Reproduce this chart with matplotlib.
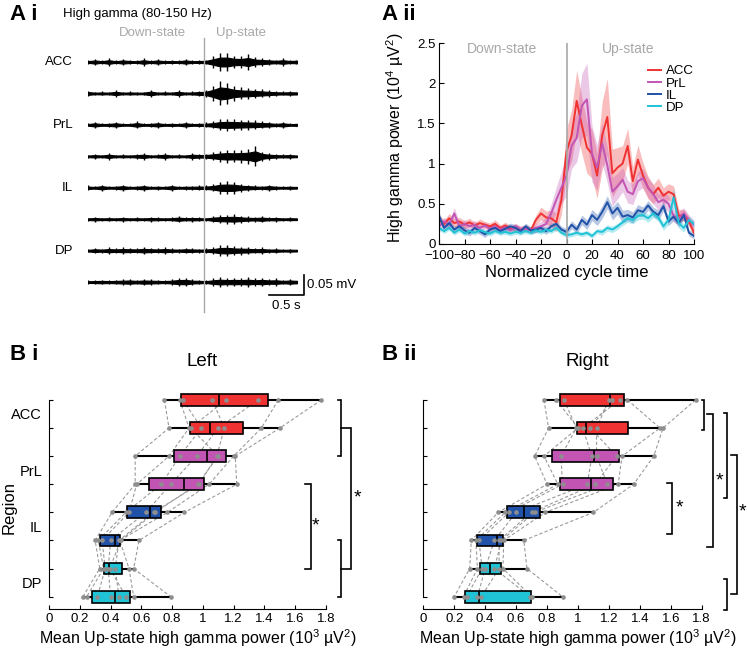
import numpy as np
import matplotlib
matplotlib.use("Agg")
import matplotlib.pyplot as plt
from matplotlib.ticker import FuncFormatter

plt.rcParams['font.family'] = ['Liberation Sans', 'DejaVu Sans']
plt.rcParams['mathtext.fontset'] = 'custom'
plt.rcParams['mathtext.rm'] = 'Liberation Sans'

# ---- A i : high gamma traces, envelope half-amplitude in uV every 0.1 s ----
trace_t = np.arange(31) * 0.1
trace_names = ['ACC', '', 'PrL', '', 'IL', '', 'DP', '']
trace_env = [
    [4, 8, 4, 9, 4, 8, 5, 4, 9, 4, 8, 4, 5, 4, 8, 4, 5, 6, 14, 22, 22, 16, 15, 20, 12, 10, 8, 6, 9, 5, 7],
    [7, 4, 5, 4, 8, 4, 5, 4, 4, 9, 4, 5, 4, 8, 4, 5, 7, 9, 18, 30, 26, 18, 15, 14, 12, 10, 8, 6, 5, 6, 5],
    [4, 8, 4, 5, 8, 4, 4, 9, 4, 5, 8, 4, 5, 4, 8, 4, 5, 6, 9, 14, 15, 14, 13, 12, 11, 9, 8, 5, 8, 4, 5],
    [4, 6, 4, 8, 4, 5, 4, 6, 8, 4, 5, 8, 4, 5, 4, 8, 6, 7, 10, 14, 16, 15, 16, 18, 25, 12, 8, 6, 5, 6, 4],
    [6, 4, 8, 4, 5, 8, 4, 5, 8, 4, 5, 4, 8, 4, 5, 5, 6, 6, 9, 15, 16, 15, 10, 8, 6, 5, 8, 5, 4, 5, 4],
    [4, 6, 4, 5, 4, 6, 4, 5, 4, 6, 5, 4, 5, 8, 5, 6, 5, 4, 8, 10, 11, 12, 9, 7, 6, 8, 5, 6, 4, 5, 4],
    [4, 7, 5, 8, 6, 8, 7, 6, 9, 7, 6, 8, 6, 5, 7, 6, 5, 6, 8, 13, 14, 11, 10, 9, 7, 8, 5, 6, 4, 5, 4],
    [4, 5, 6, 5, 6, 7, 8, 6, 8, 7, 6, 5, 7, 10, 11, 7, 6, 5, 9, 12, 10, 11, 10, 12, 9, 11, 8, 9, 6, 8, 6],
]
up_onset = 1.66

# ---- A ii : normalized cycle power (10^4 uV^2) ----
cycle_x = np.arange(-100, 101, 4)
acc_mean = [0.30, 0.25, 0.32, 0.26, 0.28, 0.24, 0.27, 0.23, 0.26, 0.24,
            0.22, 0.25, 0.20, 0.23, 0.19, 0.21, 0.18, 0.20, 0.17, 0.30,
            0.38, 0.33, 0.32, 0.27, 0.55, 1.15, 1.35, 1.78, 1.48, 1.20,
            1.12, 0.85, 1.35, 1.58, 0.88, 0.95, 1.00, 1.22, 0.78, 1.05,
            0.85, 0.70, 0.62, 0.70, 0.60, 0.65, 0.62, 0.35, 0.36, 0.28,
            0.14]
prl_mean = [0.22, 0.28, 0.24, 0.38, 0.22, 0.25, 0.22, 0.24, 0.20, 0.23,
            0.19, 0.22, 0.18, 0.21, 0.17, 0.22, 0.18, 0.19, 0.17, 0.20,
            0.22, 0.25, 0.38, 0.55, 0.70, 0.85, 1.22, 1.32, 1.72, 1.80,
            1.12, 0.95, 1.25, 0.98, 0.65, 0.72, 0.80, 0.65, 0.62, 0.78,
            0.82, 0.70, 0.62, 0.52, 0.55, 0.50, 0.35, 0.32, 0.38, 0.30,
            0.24]
il_mean = [0.35, 0.20, 0.26, 0.18, 0.22, 0.17, 0.14, 0.20, 0.16, 0.12,
           0.18, 0.20, 0.16, 0.19, 0.22, 0.20, 0.16, 0.22, 0.17, 0.18,
           0.20, 0.16, 0.22, 0.25, 0.18, 0.15, 0.24, 0.18, 0.30, 0.24,
           0.36, 0.30, 0.40, 0.52, 0.38, 0.45, 0.34, 0.36, 0.33, 0.42,
           0.40, 0.48, 0.40, 0.36, 0.47, 0.28, 0.34, 0.26, 0.36, 0.14,
           0.10]
dp_mean = [0.20, 0.16, 0.20, 0.14, 0.18, 0.13, 0.16, 0.14, 0.17, 0.15,
           0.13, 0.16, 0.14, 0.15, 0.13, 0.15, 0.14, 0.16, 0.14, 0.17,
           0.15, 0.18, 0.16, 0.20, 0.14, 0.11, 0.12, 0.14, 0.12, 0.14,
           0.10, 0.16, 0.15, 0.20, 0.18, 0.22, 0.27, 0.32, 0.30, 0.35,
           0.36, 0.32, 0.38, 0.33, 0.22, 0.30, 0.58, 0.26, 0.20, 0.30,
           0.25]
acc_sem = [0.06, 0.05, 0.06, 0.05, 0.05, 0.05, 0.05, 0.04, 0.05, 0.04,
           0.04, 0.05, 0.04, 0.04, 0.04, 0.04, 0.04, 0.04, 0.04, 0.06,
           0.08, 0.08, 0.10, 0.12, 0.18, 0.28, 0.32, 0.38, 0.35, 0.32,
           0.30, 0.28, 0.42, 0.48, 0.30, 0.25, 0.22, 0.22, 0.18, 0.18,
           0.16, 0.14, 0.12, 0.12, 0.10, 0.10, 0.10, 0.08, 0.07, 0.06,
           0.05]
prl_sem = [0.06, 0.05, 0.06, 0.07, 0.05, 0.05, 0.05, 0.05, 0.04, 0.04,
           0.04, 0.04, 0.04, 0.04, 0.04, 0.04, 0.04, 0.04, 0.04, 0.05,
           0.06, 0.08, 0.12, 0.16, 0.20, 0.25, 0.28, 0.30, 0.40, 0.45,
           0.35, 0.28, 0.25, 0.22, 0.18, 0.16, 0.15, 0.14, 0.13, 0.12,
           0.12, 0.12, 0.12, 0.10, 0.10, 0.10, 0.08, 0.08, 0.07, 0.06,
           0.05]
il_sem = [0.05, 0.04, 0.04, 0.04, 0.04, 0.04, 0.04, 0.04, 0.04, 0.04,
          0.04, 0.04, 0.04, 0.04, 0.04, 0.04, 0.04, 0.04, 0.04, 0.04,
          0.04, 0.04, 0.04, 0.04, 0.04, 0.04, 0.05, 0.05, 0.06, 0.06,
          0.07, 0.07, 0.08, 0.08, 0.08, 0.08, 0.08, 0.07, 0.07, 0.07,
          0.06, 0.06, 0.06, 0.06, 0.06, 0.05, 0.05, 0.05, 0.05, 0.04,
          0.04]
dp_sem = [0.03, 0.03, 0.03, 0.03, 0.03, 0.03, 0.03, 0.03, 0.03, 0.03,
          0.03, 0.03, 0.03, 0.03, 0.03, 0.03, 0.03, 0.03, 0.03, 0.03,
          0.03, 0.03, 0.03, 0.03, 0.03, 0.03, 0.03, 0.03, 0.03, 0.03,
          0.03, 0.03, 0.04, 0.04, 0.04, 0.04, 0.04, 0.05, 0.05, 0.05,
          0.05, 0.05, 0.05, 0.05, 0.05, 0.06, 0.12, 0.06, 0.05, 0.05,
          0.04]

regions = ['ACC', 'PrL', 'IL', 'DP']
colors = {'ACC': '#f03232', 'PrL': '#c254b4', 'IL': '#1f52a8', 'DP': '#1fc3d5'}

# ---- B : mean Up-state high gamma power per animal (10^3 uV^2), two sites per region ----
left_rows = [
    [1.77, 0.87, 1.06, 1.49, 0.75, 1.36, 0.85, 1.15],
    [1.50, 0.99, 1.14, 1.38, 0.78, 1.10, 0.91, 0.92],
    [1.21, 0.85, 1.09, 1.20, 0.56, 0.96, 0.78, 1.10],
    [1.22, 0.73, 0.975, 1.04, 0.56, 0.79, 0.57, 0.965],
    [0.88, 0.50, 0.68, 0.77, 0.41, 0.63, 0.52, 0.69],
    [0.585, 0.32, 0.455, 0.46, 0.30, 0.40, 0.345, 0.465],
    [0.55, 0.355, 0.43, 0.52, 0.33, 0.385, 0.365, 0.395],
    [0.79, 0.245, 0.455, 0.55, 0.22, 0.40, 0.315, 0.50],
]
right_rows = [
    [1.76, 0.86, 1.20, 1.32, 0.78, 1.27, 0.91, 1.22],
    [1.55, 1.00, 1.12, 1.53, 0.81, 1.03, 0.99, 1.08],
    [1.49, 0.78, 1.12, 1.285, 0.72, 1.09, 0.89, 1.25],
    [1.36, 0.87, 1.19, 1.26, 0.80, 1.06, 0.90, 1.11],
    [1.10, 0.53, 0.72, 0.79, 0.485, 0.60, 0.555, 0.70],
    [0.65, 0.34, 0.505, 0.52, 0.31, 0.46, 0.36, 0.49],
    [0.67, 0.35, 0.46, 0.515, 0.30, 0.40, 0.38, 0.49],
    [0.90, 0.26, 0.69, 0.70, 0.20, 0.35, 0.28, 0.375],
]
row_region = ['ACC', 'ACC', 'PrL', 'PrL', 'IL', 'IL', 'DP', 'DP']

W, H = 747, 648
fig = plt.figure(figsize=(W / 100, H / 100), dpi=100)


def px_rect(x0, y0, x1, y1):
    return [x0 / W, 1 - y1 / H, (x1 - x0) / W, (y1 - y0) / H]


def ftext(x, y, s, **kw):
    fig.text(x / W, 1 - y / H, s, **kw)


fmt = FuncFormatter(lambda v, p: '%g' % v)

# ---------------- A i ----------------
ax1 = fig.add_axes(px_rect(88, 30, 297, 312))
ax1.set_xlim(0, 3.0)
ax1.set_ylim(-0.625, 0.08)
ax1.axis('off')
ax1.plot([up_onset, up_onset], [-0.625, 0.06], color='#a8a8a8', lw=1, clip_on=False)
trace_gap = 0.0786
for i, env in enumerate(trace_env):
    off = -i * trace_gap
    e = np.array(env) / 1000.0
    ax1.fill_between(trace_t, off - 0.5 * e, off + 0.5 * e, facecolor='k', edgecolor='k', lw=0.8)
    ax1.vlines(trace_t, off - e, off + e, color='k', lw=1.0)
    if trace_names[i]:
        ax1.text(-0.215, off, trace_names[i], ha='right', va='center', fontsize=9.5)
ax1.text(0.92, 0.0725, 'Down-state', ha='center', va='center', fontsize=9.5, color='#a8a8a8')
ax1.text(2.2, 0.0725, 'Up-state', ha='center', va='center', fontsize=9.5, color='#a8a8a8')
ax1.plot([2.6, 3.1, 3.1], [-0.5825, -0.5825, -0.5325], color='k', lw=1.2, clip_on=False)
ax1.text(3.145, -0.5575, '0.05 mV', ha='left', va='center', fontsize=9.5)
ax1.text(2.85, -0.595, '0.5 s', ha='center', va='top', fontsize=9.5)
ftext(10, 14, 'A i', fontsize=16, fontweight='bold', va='center')
ftext(63, 14, 'High gamma (80-150 Hz)', fontsize=9.5, va='center')

# ---------------- A ii ----------------
ax2 = fig.add_axes(px_rect(439, 43, 694, 244))
series = [(acc_mean, acc_sem), (prl_mean, prl_sem), (il_mean, il_sem), (dp_mean, dp_sem)]
for name, (m, s) in zip(regions, series):
    m = np.array(m)
    s = np.array(s)
    ax2.fill_between(cycle_x, m - s, m + s, color=colors[name], alpha=0.32, lw=0)
for name, (m, s) in zip(regions, series):
    ax2.plot(cycle_x, m, color=colors[name], lw=1.4, label=name)
ax2.axvline(0, color='#a8a8a8', lw=1.2, zorder=5)
ax2.set_xlim(-100, 100)
ax2.set_ylim(0, 2.5)
ax2.set_xticks(np.arange(-100, 101, 20))
ax2.set_yticks([0, 0.5, 1, 1.5, 2, 2.5])
ax2.yaxis.set_major_formatter(fmt)
ax2.tick_params(direction='in', length=3.5, labelsize=9.5)
ax2.tick_params(axis='x', pad=4.5)
ax2.tick_params(axis='y', pad=2.5)
for sp in ['top', 'right']:
    ax2.spines[sp].set_visible(False)
ax2.text(-50.7, 2.42, 'Down-state', ha='center', va='center', fontsize=10, color='#a8a8a8')
ax2.text(48, 2.42, 'Up-state', ha='center', va='center', fontsize=10, color='#a8a8a8')
ax2.legend(loc='upper left', bbox_to_anchor=(0.82, 0.89), frameon=False, fontsize=9.5,
           labelspacing=0.0, handlelength=1.0, handletextpad=0.35, borderpad=0, borderaxespad=0)
ftext(567, 273, 'Normalized cycle time', fontsize=12, ha='center', va='center')
ftext(395, 138, r'High gamma power (10$^{\mathregular{4}}$ µV$^{\mathregular{2}}$)', fontsize=11.5,
      ha='center', va='center', rotation=90)
ftext(382, 14, 'A ii', fontsize=16, fontweight='bold', va='center')


# ---------------- B ----------------
def box_panel(ax, rows):
    n_animals = len(rows[0])
    ypos = np.arange(len(rows))
    for j in range(n_animals):
        ax.plot([r[j] for r in rows], ypos, ls=(0, (3, 2)), color='#9a9a9a', lw=0.8, zorder=1)
    stats = []
    for r in rows:
        q1, med, q3 = np.percentile(r, [25, 50, 75], method='hazen')
        stats.append(dict(med=med, q1=q1, q3=q3, whislo=min(r), whishi=max(r), fliers=[]))
    bp = ax.bxp(stats, positions=ypos, orientation='horizontal', widths=0.42, patch_artist=True,
                showcaps=False, showfliers=False,
                boxprops=dict(edgecolor='k', lw=1.2),
                medianprops=dict(color='k', lw=1.2),
                whiskerprops=dict(color='k', lw=1.5))
    for patch, reg in zip(bp['boxes'], row_region):
        patch.set_facecolor(colors[reg])
        patch.set_zorder(3)
    for k in ('medians', 'whiskers'):
        for ln in bp[k]:
            ln.set_zorder(3.5 if k == 'medians' else 2)
    for y, r in zip(ypos, rows):
        ax.scatter(r, [y] * len(r), s=11, color='#8e8e8e', zorder=5, lw=0)
    ax.set_xlim(0, 1.8)
    ax.set_ylim(7.44, -0.71)
    ax.set_xticks(np.arange(0, 1.81, 0.2))
    ax.xaxis.set_major_formatter(fmt)
    ax.set_yticks(ypos)
    ax.set_yticklabels([])
    ax.tick_params(direction='in', length=3, labelsize=9.5, pad=3)
    for sp in ['top', 'right']:
        ax.spines[sp].set_visible(False)
    ax.spines['left'].set_bounds(0, 7)
    ax.spines['bottom'].set_bounds(0, 1.8)


def bracket(ax, x, y0, y1, tip):
    ax.plot([x - tip, x, x, x - tip], [y0, y0, y1, y1], color='k', lw=1.2,
            clip_on=False, solid_joinstyle='miter')


axL = fig.add_axes(px_rect(49, 380, 326, 609))
box_panel(axL, left_rows)
axL.set_yticks([0.5, 2.5, 4.5, 6.5], minor=True)
axL.set_yticklabels(regions, minor=True, fontsize=10.5)
axL.tick_params(axis='y', which='minor', length=0, pad=5)
bracket(axL, 1.895, 0, 2, 0.015)
bracket(axL, 1.96, 1, 6, 0.06)
bracket(axL, 1.895, 5, 7, 0.015)
bracket(axL, 1.70, 3, 6, 0.035)
axL.text(2.003, 3.5, '*', fontsize=14, ha='center', va='center', clip_on=False)
axL.text(1.733, 4.5, '*', fontsize=14, ha='center', va='center', clip_on=False)

axR = fig.add_axes(px_rect(423.3, 380, 701.7, 609))
box_panel(axR, right_rows)
bracket(axR, 1.816, 0, 1.07, 0.015)
bracket(axR, 1.872, 0.5, 5.22, 0.04)
bracket(axR, 1.962, 0.45, 3.48, 0.015)
bracket(axR, 2.027, 1.96, 6.9, 0.04)
bracket(axR, 1.962, 6.38, 7.47, 0.015)
bracket(axR, 1.611, 2.97, 4.77, 0.033)
axR.text(1.915, 2.87, '*', fontsize=14, ha='center', va='center', clip_on=False)
axR.text(2.066, 3.97, '*', fontsize=14, ha='center', va='center', clip_on=False)
axR.text(1.656, 3.86, '*', fontsize=14, ha='center', va='center', clip_on=False)

ftext(10, 354, 'B i', fontsize=16, fontweight='bold', va='center')
ftext(382, 354, 'B ii', fontsize=16, fontweight='bold', va='center')
ftext(202, 361, 'Left', fontsize=13.5, ha='center', va='center')
ftext(587, 361, 'Right', fontsize=13.5, ha='center', va='center')
ftext(9, 507, 'Region', fontsize=12, ha='center', va='center', rotation=90)
xl = r'Mean Up-state high gamma power (10$^{\mathregular{3}}$ µV$^{\mathregular{2}}$)'
ftext(198, 638, xl, fontsize=11.5, ha='center', va='center')
ftext(578, 638, xl, fontsize=11.5, ha='center', va='center')

fig.savefig('out.png', dpi=100)
